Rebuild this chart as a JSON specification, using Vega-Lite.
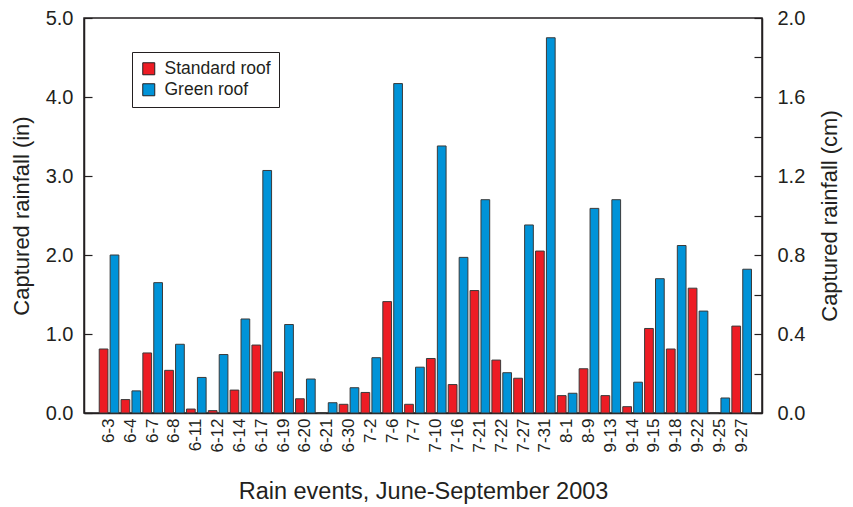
{
  "$schema": "https://vega.github.io/schema/vega-lite/v6.json",
  "autosize": "none",
  "width": 678,
  "height": 395,
  "padding": {"left": 84, "top": 18, "right": 91, "bottom": 94},
  "background": "white",
  "config": {
    "font": "Liberation Sans",
    "view": {"stroke": "#231f20", "strokeWidth": 1.5},
    "axis": {
      "labelFont": "Liberation Sans",
      "titleFont": "Liberation Sans",
      "labelColor": "#231f20",
      "titleColor": "#231f20",
      "titleFontWeight": "normal",
      "domainColor": "#231f20",
      "domainWidth": 1.5,
      "tickColor": "#231f20",
      "tickWidth": 1.2,
      "grid": false
    },
    "legend": {"labelFont": "Liberation Sans"}
  },
  "data": {
    "values": [
      {"date": "6-3", "roof": "Standard roof", "rain": 0.81},
      {"date": "6-3", "roof": "Green roof", "rain": 2.0},
      {"date": "6-4", "roof": "Standard roof", "rain": 0.17},
      {"date": "6-4", "roof": "Green roof", "rain": 0.28},
      {"date": "6-7", "roof": "Standard roof", "rain": 0.76},
      {"date": "6-7", "roof": "Green roof", "rain": 1.65},
      {"date": "6-8", "roof": "Standard roof", "rain": 0.54},
      {"date": "6-8", "roof": "Green roof", "rain": 0.87},
      {"date": "6-11", "roof": "Standard roof", "rain": 0.05},
      {"date": "6-11", "roof": "Green roof", "rain": 0.45},
      {"date": "6-12", "roof": "Standard roof", "rain": 0.03},
      {"date": "6-12", "roof": "Green roof", "rain": 0.74},
      {"date": "6-14", "roof": "Standard roof", "rain": 0.29},
      {"date": "6-14", "roof": "Green roof", "rain": 1.19},
      {"date": "6-17", "roof": "Standard roof", "rain": 0.86},
      {"date": "6-17", "roof": "Green roof", "rain": 3.07},
      {"date": "6-19", "roof": "Standard roof", "rain": 0.52},
      {"date": "6-19", "roof": "Green roof", "rain": 1.12},
      {"date": "6-20", "roof": "Standard roof", "rain": 0.18},
      {"date": "6-20", "roof": "Green roof", "rain": 0.43},
      {"date": "6-21", "roof": "Standard roof", "rain": 0.0},
      {"date": "6-21", "roof": "Green roof", "rain": 0.13},
      {"date": "6-30", "roof": "Standard roof", "rain": 0.11},
      {"date": "6-30", "roof": "Green roof", "rain": 0.32},
      {"date": "7-2", "roof": "Standard roof", "rain": 0.26},
      {"date": "7-2", "roof": "Green roof", "rain": 0.7},
      {"date": "7-6", "roof": "Standard roof", "rain": 1.41},
      {"date": "7-6", "roof": "Green roof", "rain": 4.17},
      {"date": "7-7", "roof": "Standard roof", "rain": 0.11},
      {"date": "7-7", "roof": "Green roof", "rain": 0.58},
      {"date": "7-10", "roof": "Standard roof", "rain": 0.69},
      {"date": "7-10", "roof": "Green roof", "rain": 3.38},
      {"date": "7-16", "roof": "Standard roof", "rain": 0.36},
      {"date": "7-16", "roof": "Green roof", "rain": 1.97},
      {"date": "7-21", "roof": "Standard roof", "rain": 1.55},
      {"date": "7-21", "roof": "Green roof", "rain": 2.7},
      {"date": "7-22", "roof": "Standard roof", "rain": 0.67},
      {"date": "7-22", "roof": "Green roof", "rain": 0.51},
      {"date": "7-27", "roof": "Standard roof", "rain": 0.44},
      {"date": "7-27", "roof": "Green roof", "rain": 2.38},
      {"date": "7-31", "roof": "Standard roof", "rain": 2.05},
      {"date": "7-31", "roof": "Green roof", "rain": 4.75},
      {"date": "8-1", "roof": "Standard roof", "rain": 0.22},
      {"date": "8-1", "roof": "Green roof", "rain": 0.25},
      {"date": "8-9", "roof": "Standard roof", "rain": 0.56},
      {"date": "8-9", "roof": "Green roof", "rain": 2.59},
      {"date": "9-13", "roof": "Standard roof", "rain": 0.22},
      {"date": "9-13", "roof": "Green roof", "rain": 2.7},
      {"date": "9-14", "roof": "Standard roof", "rain": 0.08},
      {"date": "9-14", "roof": "Green roof", "rain": 0.39},
      {"date": "9-15", "roof": "Standard roof", "rain": 1.07},
      {"date": "9-15", "roof": "Green roof", "rain": 1.7},
      {"date": "9-18", "roof": "Standard roof", "rain": 0.81},
      {"date": "9-18", "roof": "Green roof", "rain": 2.12},
      {"date": "9-22", "roof": "Standard roof", "rain": 1.58},
      {"date": "9-22", "roof": "Green roof", "rain": 1.29},
      {"date": "9-25", "roof": "Standard roof", "rain": 0.0},
      {"date": "9-25", "roof": "Green roof", "rain": 0.19},
      {"date": "9-27", "roof": "Standard roof", "rain": 1.1},
      {"date": "9-27", "roof": "Green roof", "rain": 1.82}
    ]
  },
  "layer": [
    {
      "mark": {"type": "bar", "stroke": "#3a3a3a", "strokeWidth": 1},
      "encoding": {
        "x": {
          "field": "date",
          "type": "nominal",
          "sort": null,
          "scale": {"paddingInner": 0, "paddingOuter": 0.54, "align": 0.6},
          "axis": {
            "title": "Rain events, June-September 2003",
            "titleFontSize": 23.5,
            "titlePadding": 27,
            "labelAngle": -90,
            "labelFontSize": 17,
            "labelPadding": 5,
            "ticks": false
          }
        },
        "xOffset": {
          "field": "roof",
          "type": "nominal",
          "sort": ["Standard roof", "Green roof"],
          "scale": {"paddingInner": 0.2, "paddingOuter": 0.1}
        },
        "y": {
          "field": "rain",
          "type": "quantitative",
          "scale": {"domain": [0, 5], "nice": false},
          "axis": {
            "orient": "left",
            "title": "Captured rainfall (in)",
            "titleFontSize": 22,
            "titlePadding": 12,
            "values": [0, 1, 2, 3, 4, 5],
            "format": ".1f",
            "labelFontSize": 20,
            "tickSize": -8,
            "labelPadding": 19
          }
        },
        "color": {
          "field": "roof",
          "type": "nominal",
          "scale": {"domain": ["Standard roof", "Green roof"], "range": ["#ED1C24", "#0093D8"]},
          "legend": {
            "orient": "none",
            "legendX": 48,
            "legendY": 34,
            "title": null,
            "strokeColor": "#231f20",
            "fillColor": "white",
            "padding": 8,
            "symbolType": "square",
            "symbolSize": 144,
            "symbolStrokeColor": "#231f20",
            "symbolStrokeWidth": 1,
            "symbolOpacity": 1,
            "labelFontSize": 17.5,
            "labelColor": "#231f20",
            "labelOffset": 7,
            "rowPadding": 2
          }
        }
      }
    },
    {
      "data": {"values": [{"cm": 0}]},
      "mark": {"type": "point", "opacity": 0},
      "encoding": {
        "y": {
          "field": "cm",
          "type": "quantitative",
          "scale": {"domain": [0, 2], "nice": false},
          "axis": {
            "orient": "right",
            "title": "Captured rainfall (cm)",
            "titleFontSize": 22,
            "titleAngle": 270,
            "titlePadding": 37,
            "values": [0, 0.2, 0.4, 0.6, 0.8, 1.0, 1.2, 1.4, 1.6, 1.8, 2.0],
            "labelExpr": "(round(datum.value*10) % 4 == 0) ? format(datum.value, '.1f') : ''",
            "labelFontSize": 20,
            "tickSize": -8,
            "labelPadding": 23
          }
        }
      }
    }
  ],
  "resolve": {"scale": {"y": "independent"}, "axis": {"y": "independent"}}
}
